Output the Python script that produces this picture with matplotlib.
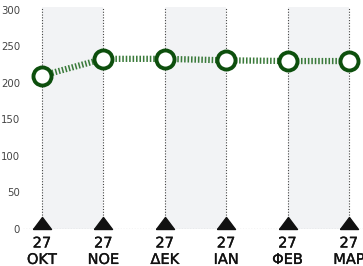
import numpy as np
import matplotlib.pyplot as plt
import matplotlib.patheffects as pe
from matplotlib import font_manager

months = ['ΟΚΤ', 'ΝΟΕ', 'ΔΕΚ', 'ΙΑΝ', 'ΦΕΒ', 'ΜΑΡ']
days = ['27', '27', '27', '27', '27', '27']
values = [210, 233, 233, 231, 230, 230]
yticks = [0, 50, 100, 150, 200, 250, 300]

names = {f.name for f in font_manager.fontManager.ttflist}
fam = ['Liberation Sans Narrow'] if 'Liberation Sans Narrow' in names else []
plt.rcParams['font.family'] = fam + ['DejaVu Sans']

fig = plt.figure(figsize=(3.63, 2.66), dpi=100)
ax = fig.add_axes([23 / 363, 37 / 266, 340 / 363, 222 / 266])

x = np.arange(len(values))

# shaded bands every other interval
for i in range(0, len(x) - 1, 2):
    ax.axvspan(x[i], x[i + 1], color='#f2f3f5', zorder=0, lw=0)
for xi in x:
    ax.axvline(xi, color='#444444', lw=0.8, ls=(0, (1, 1.5)), zorder=1)

ax.axhline(0, color='#555555', lw=0.8, ls=(0, (1, 1.5)), zorder=1)

ax.plot(x, values, color='#3a7a3a', lw=4.5, ls=(0, (0.25, 0.3)), zorder=2)
ax.plot(x, values, ls='none', marker='o', ms=13, mfc='white',
        mec='#0d4f0d', mew=2.8, zorder=3)

tri = [(-1, 0), (1, 0), (0, 1.33), (-1, 0)]
ax.scatter(x, [0] * len(x), marker=tri, s=300, color='#111111',
           zorder=4, clip_on=False)

ax.set_xlim(-0.31, 5.23)
ax.set_ylim(0, 304)
ax.set_yticks(yticks)
ax.set_yticklabels([str(v) for v in yticks], fontsize=7.3, color='#444444')
ax.set_xticks(x)
ax.set_xticklabels([])
ax.tick_params(length=0, axis='y', pad=2)
ax.tick_params(length=0, axis='x')
for s in ax.spines.values():
    s.set_visible(False)

# a thin stroke makes the narrow font look semi-bold
thick = [pe.withStroke(linewidth=0.25, foreground='#111111')]
tr = ax.get_xaxis_transform()
for xi, d, m in zip(x, days, months):
    ax.text(xi, -0.063, d, transform=tr, ha='center', va='center',
            fontsize=10.5, color='#111111', clip_on=False,
            path_effects=thick)
    ax.text(xi, -0.137, m, transform=tr, ha='center', va='center',
            fontsize=10.5, color='#111111', clip_on=False,
            path_effects=thick)

fig.savefig('out.png', dpi=100)
